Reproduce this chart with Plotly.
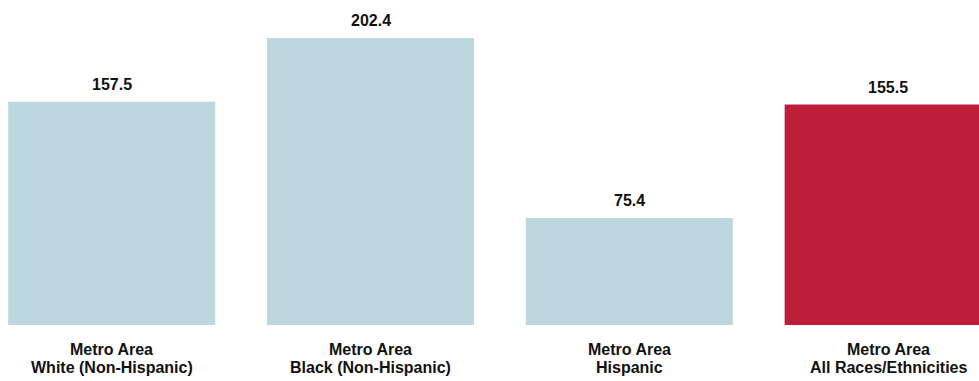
import plotly.graph_objects as go

categories = ["Metro Area<br>White (Non-Hispanic)", "Metro Area<br>Black (Non-Hispanic)",
              "Metro Area<br>Hispanic", "Metro Area<br>All Races/Ethnicities"]
values = [157.5, 202.4, 75.4, 155.5]
value_labels = ["157.5", "202.4", "75.4", "155.5"]
colors = ["#BDD7DE", "#BDD7DE", "#BDD7DE", "#BE1E3A"]

FONT = "Liberation Sans, Arial, sans-serif"
FS = 16

fig = go.Figure()
fig.add_trace(go.Bar(x=list(range(len(values))), y=values, marker=dict(color=colors, line=dict(width=0)),
                     width=0.8, hoverinfo="skip"))

annotations = []
for i, (v, t) in enumerate(zip(values, value_labels)):
    annotations.append(dict(x=i, y=v, xref="x", yref="y", text=f"<b>{t}</b>", showarrow=False,
                            yanchor="bottom", yshift=7, font=dict(family=FONT, size=FS, color="#111111")))
for i, c in enumerate(categories):
    for j, line in enumerate(c.split("<br>")):
        annotations.append(dict(x=i, y=0, xref="x", yref="paper", text=f"<b>{line}</b>", showarrow=False,
                                yanchor="top", yshift=-14 - 18 * j,
                                font=dict(family=FONT, size=FS, color="#111111")))

fig.update_layout(
    width=979, height=381,
    margin=dict(l=0, r=0, t=0, b=56),
    paper_bgcolor="white", plot_bgcolor="white",
    showlegend=False,
    xaxis=dict(range=[-0.4316, 3.351], showticklabels=False, showgrid=False, zeroline=False, showline=False),
    yaxis=dict(range=[0, 229.2], showticklabels=False, showgrid=False, zeroline=False, showline=False),
    annotations=annotations,
)
fig.write_html("out.html", config={"displayModeBar": False},
               post_script="document.body.style.margin='0';document.body.style.padding='0';")
